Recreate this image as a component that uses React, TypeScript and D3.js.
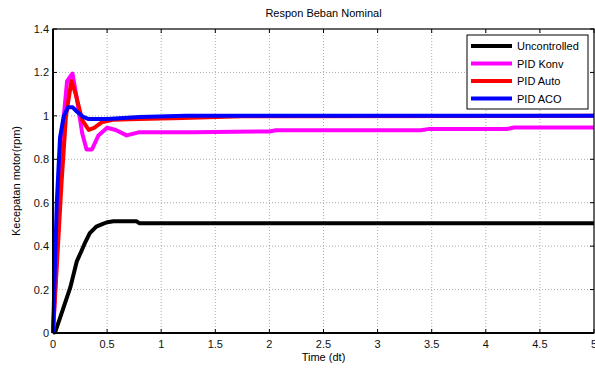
import React from "react";
import * as d3 from "d3";

const title = "Respon Beban Nominal";
const xLabel = "Time (dt)";
const yLabel = "Kecepatan motor(rpm)";
const xTicks = [0, 0.5, 1, 1.5, 2, 2.5, 3, 3.5, 4, 4.5, 5];
const yTicks = [0, 0.2, 0.4, 0.6, 0.8, 1, 1.2, 1.4];

const uncontrolledT = [0, 0.02, 0.065, 0.16, 0.22, 0.265, 0.3, 0.34, 0.4, 0.45, 0.5, 0.56, 0.77, 0.8, 5];
const uncontrolledV = [0, 0.004, 0.07, 0.21, 0.33, 0.38, 0.42, 0.46, 0.49, 0.5, 0.51, 0.515, 0.515, 0.505, 0.505];

const konvT = [0, 0.05, 0.1, 0.13, 0.18, 0.22, 0.27, 0.31, 0.36, 0.42, 0.5, 0.58, 0.68, 0.8, 1.3, 2.0, 2.06, 3.4, 3.48, 4.2, 4.26, 5];
const konvV = [0, 0.5, 1.0, 1.16, 1.195, 1.08, 0.92, 0.845, 0.845, 0.91, 0.945, 0.935, 0.91, 0.925, 0.925, 0.928, 0.934, 0.934, 0.94, 0.94, 0.946, 0.946];

const autoT = [0, 0.04, 0.08, 0.12, 0.17, 0.21, 0.27, 0.33, 0.38, 0.45, 0.55, 0.8, 1.2, 1.75, 5];
const autoV = [0, 0.35, 0.7, 1.0, 1.16, 1.1, 0.98, 0.935, 0.945, 0.97, 0.982, 0.985, 0.99, 0.998, 1.0];

const acoT = [0, 0.035, 0.065, 0.1, 0.14, 0.18, 0.22, 0.28, 0.33, 0.5, 0.8, 1.23, 5];
const acoV = [0, 0.6, 0.9, 1.0, 1.04, 1.04, 1.02, 0.995, 0.985, 0.985, 0.995, 1.0, 1.0];

const seriesNames = ["Uncontrolled", "PID Konv", "PID Auto", "PID ACO"];
const seriesColors = ["#000000", "#ff00ff", "#ff0000", "#0000ff"];
const seriesT = [uncontrolledT, konvT, autoT, acoT];
const seriesV = [uncontrolledV, konvV, autoV, acoV];

export default function App() {
  const W = 595, H = 369;
  const left = 53, right = 594, top = 29, bottom = 333;
  const x = d3.scaleLinear().domain([0, 5]).range([left, right]);
  const y = d3.scaleLinear().domain([0, 1.4]).range([bottom, top]);
  const line = d3.line<[number, number]>().x(d => x(d[0])).y(d => y(d[1]));
  const font = "'Liberation Sans', Arial, sans-serif";
  const drawOrder = [0, 1, 2, 3];
  const lx = 467, ly = 35, lw = 121, lh = 74;
  return (
    <svg width={W} height={H} style={{ position: "absolute", left: 0, top: 0, background: "#fff" }} fontFamily={font}>
      <rect x={0} y={0} width={W} height={H} fill="#fff" />
      {/* grid */}
      {xTicks.slice(1, -1).map(t => (
        <line key={"gx" + t} x1={x(t)} x2={x(t)} y1={top} y2={bottom} stroke="#888" strokeWidth={0.7} strokeDasharray="1,2" />
      ))}
      {yTicks.slice(1, -1).map(t => (
        <line key={"gy" + t} x1={left} x2={right} y1={y(t)} y2={y(t)} stroke="#888" strokeWidth={0.7} strokeDasharray="1,2" />
      ))}
      {/* ticks */}
      {xTicks.map(t => (
        <g key={"tx" + t}>
          <line x1={x(t)} x2={x(t)} y1={bottom} y2={bottom - 4} stroke="#000" />
          <line x1={x(t)} x2={x(t)} y1={top} y2={top + 4} stroke="#000" />
          <text x={x(t)} y={bottom + 15} fontSize={11} textAnchor="middle" fill="#111">{String(t)}</text>
        </g>
      ))}
      {yTicks.map(t => (
        <g key={"ty" + t}>
          <line x1={left} x2={left + 4} y1={y(t)} y2={y(t)} stroke="#000" />
          <line x1={right} x2={right - 4} y1={y(t)} y2={y(t)} stroke="#000" />
          <text x={left - 4} y={y(t) + 4} fontSize={11} textAnchor="end" fill="#111">{String(t)}</text>
        </g>
      ))}
      {/* data */}
      {drawOrder.map(i => {
        const pts: [number, number][] = seriesT[i].map((t, k) => [t, seriesV[i][k]]);
        return <path key={"s" + i} d={line(pts) || ""} fill="none" stroke={seriesColors[i]} strokeWidth={4} strokeLinejoin="round" />;
      })}
      {/* frame */}
      <rect x={left} y={top} width={right - left} height={bottom - top} fill="none" stroke="#000" strokeWidth={1.2} />
      <line x1={left} x2={left} y1={top} y2={bottom} stroke="#000" strokeWidth={2} />
      <line x1={left} x2={right} y1={bottom} y2={bottom} stroke="#000" strokeWidth={2} />
      {/* legend */}
      <rect x={lx} y={ly} width={lw} height={lh} fill="#fff" stroke="#000" strokeWidth={1} />
      {seriesNames.map((n, i) => (
        <g key={"l" + i}>
          <line x1={lx + 4} x2={lx + 45} y1={ly + 11 + i * 17.5} y2={ly + 11 + i * 17.5} stroke={seriesColors[i]} strokeWidth={4} />
          <text x={lx + 50} y={ly + 15 + i * 17.5} fontSize={11} fill="#000">{n}</text>
        </g>
      ))}
      {/* labels */}
      <text x={(left + right) / 2} y={17} fontSize={11} textAnchor="middle">{title}</text>
      <text x={(left + right) / 2} y={361} fontSize={11} textAnchor="middle">{xLabel}</text>
      <text transform={`translate(20,${(top + bottom) / 2}) rotate(-90)`} fontSize={11} textAnchor="middle">{yLabel}</text>
    </svg>
  );
}
